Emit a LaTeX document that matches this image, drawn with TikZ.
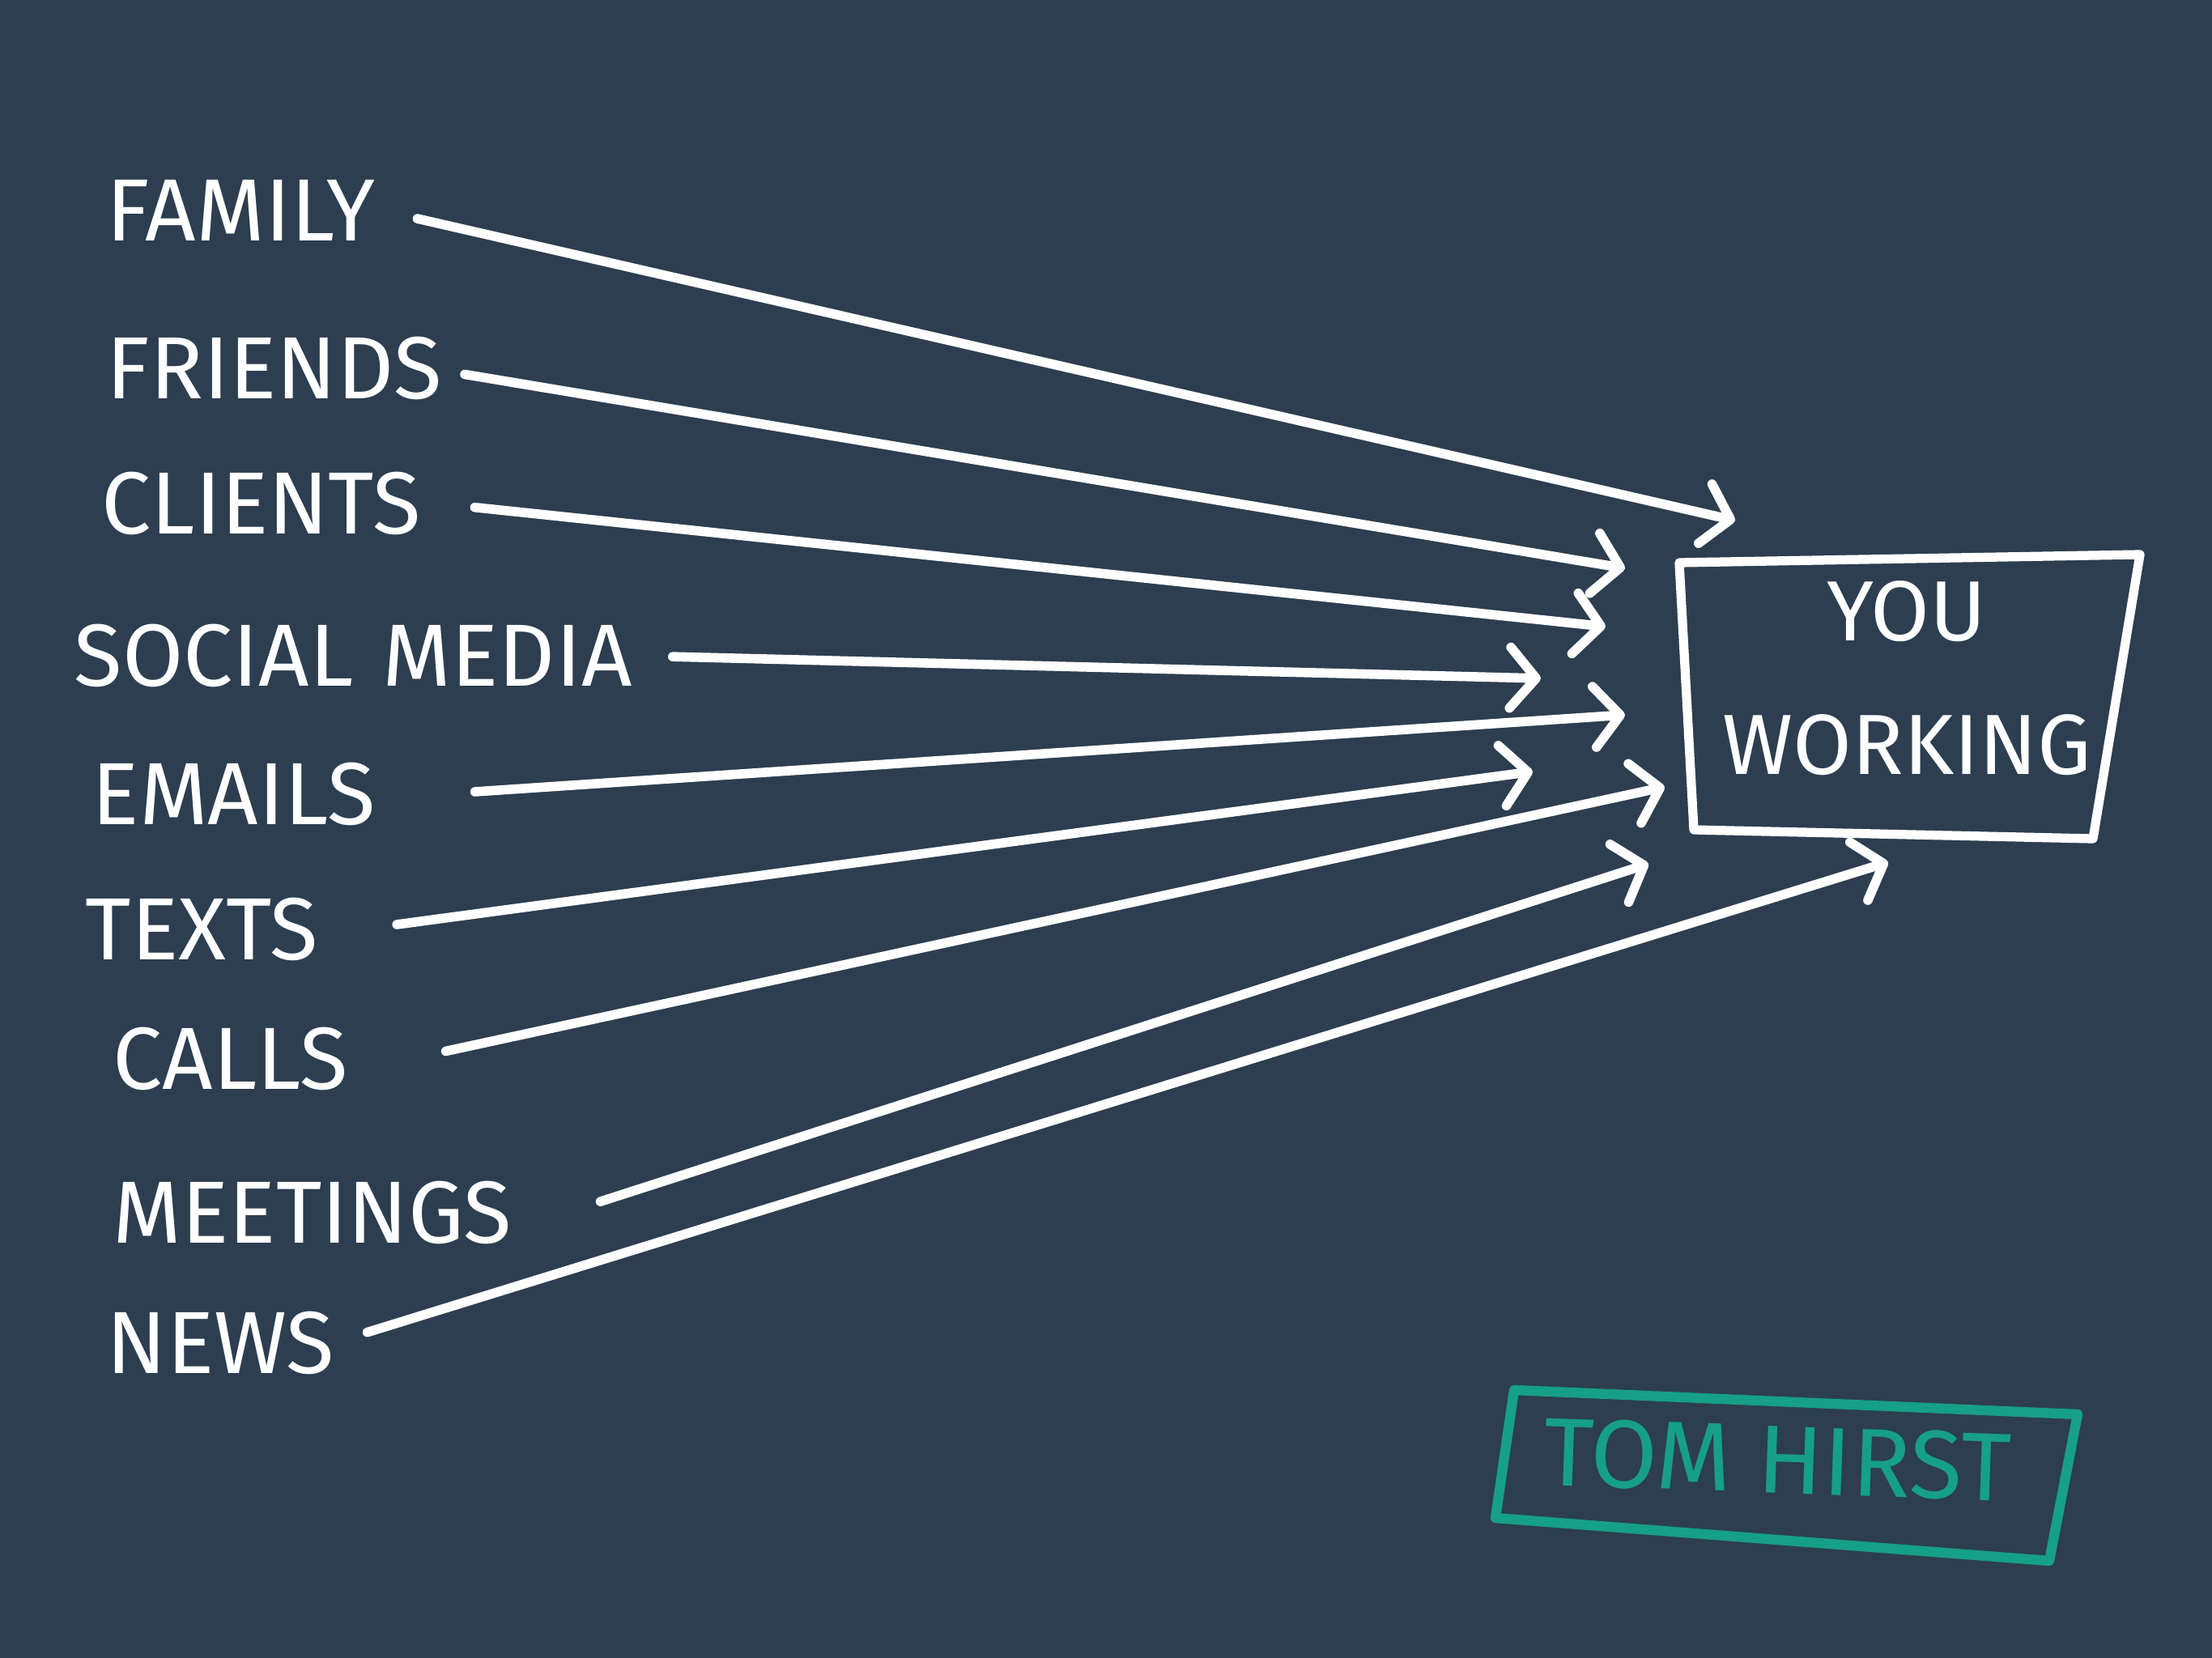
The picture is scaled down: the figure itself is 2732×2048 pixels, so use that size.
\documentclass[tikz,border=0pt]{standalone}
\usepackage{fontspec}
\setmainfont{Fira Sans}
\usetikzlibrary{arrows.meta}
\definecolor{bgblue}{HTML}{2C3E50}
\definecolor{sigreen}{HTML}{16A085}

\begin{document}
\begin{tikzpicture}[x=0.01cm, y=-0.01cm,
    itemtxt/.style={text=white, font=\fontsize{31}{36}\selectfont, anchor=west,
      inner sep=0pt, text width=#1, align=left},
    arr/.style={white, line width=3.3pt, line cap=round, shorten <=0.45cm,
      -{Straight Barb[length=0.32cm, width=0.75cm, round]}},
    frame/.style={line width=3.2pt, line join=round, line cap=round}]

  % Background
  \fill[bgblue] (0,0) rectangle (2732,2048);
  \useasboundingbox (0,0) rectangle (2732,2048);

  % Things on the left
  \node[itemtxt=3.39cm] (fam) at (131,260) {FAMILY};
  \node[itemtxt=3.97cm] (fri) at (131,455) {FRIENDS};
  \node[itemtxt=4.15cm] (cli) at (125,622) {CLIENTS};
  \node[itemtxt=6.93cm] (soc) at (91,810) {SOCIAL MEDIA};
  \node[itemtxt=4.27cm] (ema) at (113,981) {EMAILS};
  \node[itemtxt=3.39cm] (tex) at (105,1148) {TEXTS};
  \node[itemtxt=3.66cm] (cal) at (139,1308) {CALLS};
  \node[itemtxt=5.58cm] (mee) at (139,1498) {MEETINGS};
  \node[itemtxt=2.78cm] (new) at (131,1659) {NEWS};

  % Where the arrows stop
  \coordinate (tFam) at (2143,643);
  \coordinate (tFri) at (2007,702);
  \coordinate (tCli) at (1983,774);
  \coordinate (tSoc) at (1903,838);
  \coordinate (tEma) at (2007,883);
  \coordinate (tTex) at (1893,953);
  \coordinate (tCal) at (2056,972);
  \coordinate (tMee) at (2036,1067);
  \coordinate (tNew) at (2332,1065);

  % Arrows
  \draw[arr] (fam.east) -- (tFam);
  \draw[arr] (fri.east) -- (tFri);
  \draw[arr] (cli.east) -- (tCli);
  \draw[arr] (soc.east) -- (tSoc);
  \draw[arr] (ema.east) -- (tEma);
  \draw[arr] (tex.east) -- (tTex);
  \draw[arr] (cal.east) -- (tCal);
  \draw[arr] (mee.east) -- (tMee);
  \draw[arr] (new.east) -- (tNew);

  % The box on the right
  \draw[frame, white] (2074,695) -- (2643,685) -- (2585,1036) -- (2092,1025) -- cycle;
  \node[text=white, align=center, font=\fontsize{30}{47}\selectfont] (you) at (2355,838) {YOU\\WORKING};

  % Signature
  \draw[frame, sigreen, line width=3.5pt] (1870,1717) -- (2566,1747) -- (2531,1928) -- (1847,1875) -- cycle;
  \node[text=sigreen, rotate=-2, font=\fontsize{34}{40}\selectfont] (sig) at (2195,1803) {TOM HIRST};
\end{tikzpicture}
\end{document}
